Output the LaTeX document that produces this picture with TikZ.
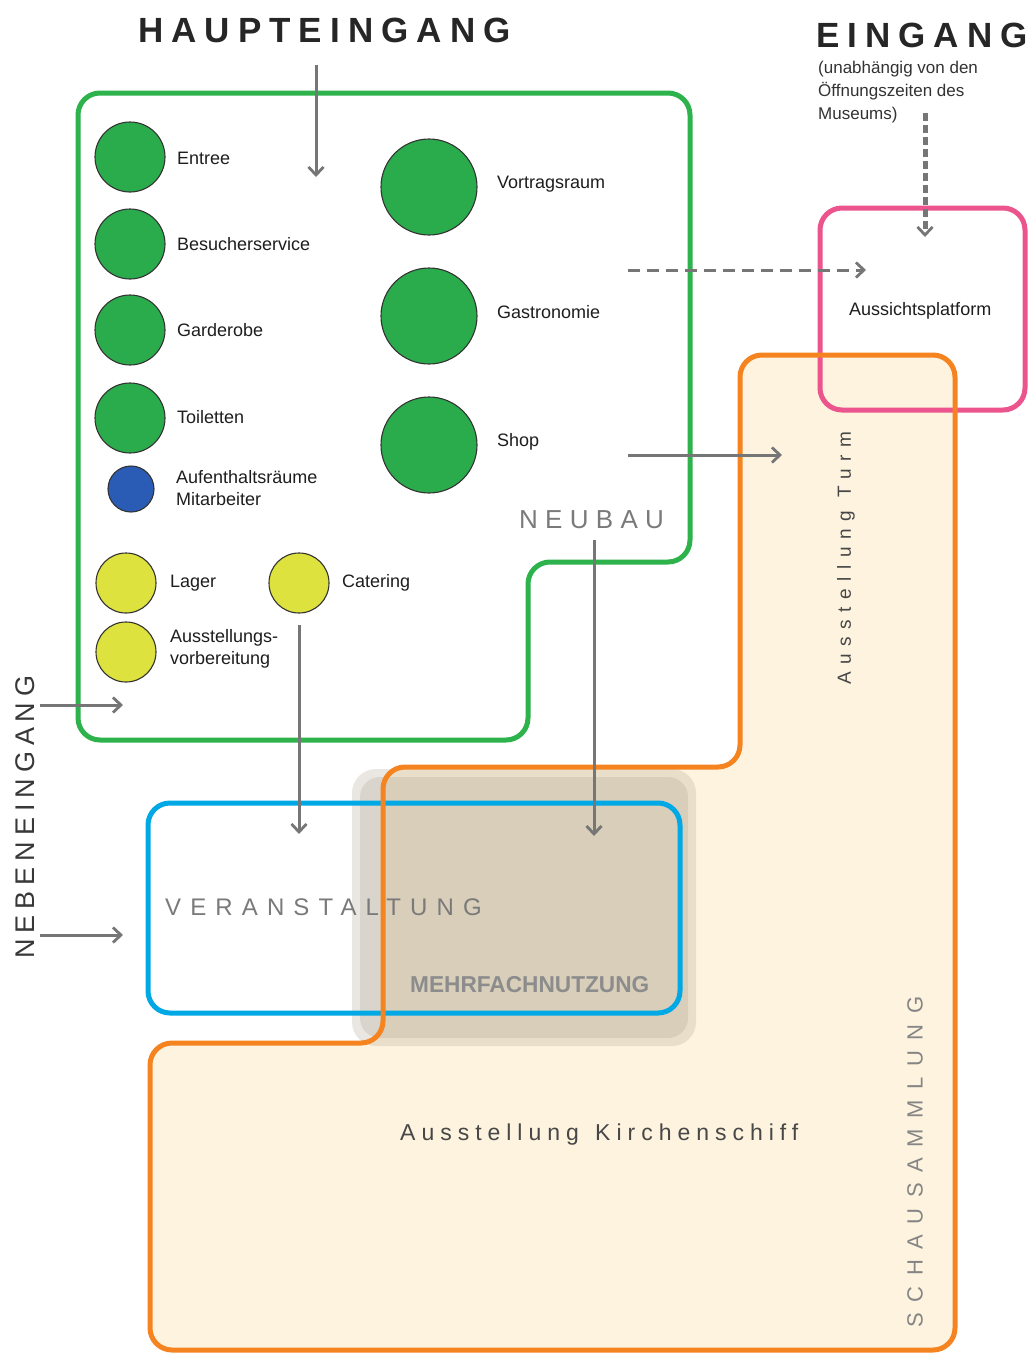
\documentclass[tikz,border=0pt]{standalone}
\usepackage{fontspec}
\setmainfont{Liberation Sans}
\usetikzlibrary{arrows.meta}
\definecolor{grn}{RGB}{46,178,76}
\definecolor{cfill}{RGB}{42,172,76}
\definecolor{blu}{RGB}{0,168,230}
\definecolor{pnk}{RGB}{236,84,142}
\definecolor{org}{RGB}{245,132,32}
\definecolor{cream}{RGB}{253,243,223}
\definecolor{arr}{RGB}{118,118,118}
\definecolor{ylw}{RGB}{222,226,62}
\definecolor{dblu}{RGB}{42,92,182}
\definecolor{mgray}{RGB}{160,150,130}
\definecolor{txt}{RGB}{30,30,30}
\begin{document}
\begin{tikzpicture}[x=1pt,y=-1pt,
  frame/.style={line width=5pt, rounded corners=22pt},
  room/.style={circle, draw=black!80, line width=1.1pt, inner sep=0pt},
  lbl/.style={anchor=west, inner sep=0pt, text=txt, font=\fontsize{18}{21}\selectfont},
  flow/.style={draw=arr, line width=3pt, -{Straight Barb[length=8pt,width=15pt,line width=2.8pt]}},
  dflow/.style={flow, dash pattern=on 12pt off 7pt},
  title/.style={inner sep=0pt, text=black!85, font=\fontsize{35}{40}\selectfont\bfseries\addfontfeatures{LetterSpace=23}},
  zone/.style={inner sep=0pt, text=black!52}
]
\useasboundingbox (0,0) rectangle (1028,1355);
\fill[white] (0,0) rectangle (1028,1355);

% orange zone fill
\fill[cream, rounded corners=22pt] (740,355) -- (955,355) -- (955,1350) -- (150,1350) -- (150,1043) -- (383,1043) -- (383,767) -- (740,767) -- cycle;

% Mehrfachnutzung grey area
\fill[mgray, opacity=0.22, rounded corners=24pt] (352,769) rectangle (696,1046);
\fill[mgray, opacity=0.22, rounded corners=20pt] (360,777) rectangle (688,1038);

% frames
\draw[frame, grn] (78,93) -- (690,93) -- (690,562) -- (528,562) -- (528,740) -- (78,740) -- cycle;
\draw[frame, pnk] (820,208) rectangle (1025,410);
\draw[frame, blu] (148,803) rectangle (680,1013);
\draw[frame, org] (740,355) -- (955,355) -- (955,1350) -- (150,1350) -- (150,1043) -- (383,1043) -- (383,767) -- (740,767) -- cycle;

% rooms
\node[room, fill=cfill, minimum size=70pt] (entree) at (130,157) {};
\node[room, fill=cfill, minimum size=70pt] (besucher) at (130,244) {};
\node[room, fill=cfill, minimum size=70pt] (garderobe) at (130,330) {};
\node[room, fill=cfill, minimum size=70pt] (toiletten) at (130,418) {};
\node[room, fill=dblu, minimum size=46pt] (aufenthalt) at (131,489) {};
\node[room, fill=ylw, minimum size=60pt] (lager) at (126,583) {};
\node[room, fill=ylw, minimum size=60pt] (vorber) at (126,652) {};
\node[room, fill=ylw, minimum size=60pt] (catering) at (299,583) {};
\node[room, fill=cfill, minimum size=96pt] (vortrag) at (429,187) {};
\node[room, fill=cfill, minimum size=96pt] (gastro) at (429,316) {};
\node[room, fill=cfill, minimum size=96pt] (shop) at (429,445) {};

\node[lbl] (entreeL) at (177,158) {Entree};
\node[lbl] (besucherL) at (177,244) {Besucherservice};
\node[lbl] (garderobeL) at (177,330) {Garderobe};
\node[lbl] (toilettenL) at (177,417) {Toiletten};
\node[lbl, align=left, font=\fontsize{18}{22}\selectfont] (aufenthaltL) at (176,488) {Aufenthaltsräume\\Mitarbeiter};
\node[lbl] (lagerL) at (170,583) {Lager};
\node[lbl] (cateringL) at (342,583) {Catering};
\node[lbl, align=left, font=\fontsize{18}{22}\selectfont] (vorberL) at (170,649) {Ausstellungs-\\vorbereitung};
\node[lbl] (vortragL) at (497,184) {Vortragsraum};
\node[lbl] (gastroL) at (497,312) {Gastronomie};
\node[lbl] (shopL) at (497,442) {Shop};
\node[lbl] (aussichtL) at (849,311) {Aussichtsplatform};

% titles
\node[title, anchor=west] (haupt) at (138,30) {HAUPTEINGANG};
\node[title, anchor=west] (eingang) at (816,35) {EINGANG};
\node[anchor=north west, inner sep=0pt, align=left, text=black!80, font=\fontsize{17}{23}\selectfont] (eingangsub) at (818,61) {(unabhängig von den\\Öffnungszeiten des\\Museums)};
\node[zone, anchor=west, font=\fontsize{26}{30}\selectfont\addfontfeatures{LetterSpace=28}] (neubau) at (519,520) {NEUBAU};
\node[zone, anchor=west, font=\fontsize{24}{28}\selectfont\addfontfeatures{LetterSpace=38}] (veranst) at (165,907) {VERANSTALTUNG};
\node[zone, anchor=west, text=black!45, font=\fontsize{23}{26}\selectfont\bfseries, xscale=0.985] (mehrfach) at (410,985) {MEHRFACHNUTZUNG};
\node[inner sep=0pt, anchor=west, text=black!72, font=\fontsize{23}{26}\selectfont\addfontfeatures{LetterSpace=26}] (kirchen) at (400,1135) {Ausstellung\hspace{4pt} Kirchenschiff};
\node[inner sep=0pt, rotate=90, text=black!72, font=\fontsize{19}{22}\selectfont\addfontfeatures{LetterSpace=40}] (turm) at (846,558) {Ausstellung Turm};
\node[zone, rotate=90, text=black!48, font=\fontsize{22}{26}\selectfont\addfontfeatures{LetterSpace=48}] (schau) at (915,1162) {SCHAUSAMMLUNG};
\node[inner sep=0pt, rotate=90, text=black!78, font=\fontsize{27}{30}\selectfont\addfontfeatures{LetterSpace=22}] (neben) at (25,817) {NEBENEINGANG};

% connector end points
\coordinate (hA) at (316,65);   \coordinate (hB) at (316,177);
\coordinate (eA) at (925,113);  \coordinate (eB) at (925,237);
\coordinate (gA) at (628,270);  \coordinate (gB) at (866,270);
\coordinate (sA) at (628,455);  \coordinate (sB) at (782,455);
\coordinate (cA) at (299,625);  \coordinate (cB) at (299,834);
\coordinate (nA) at (594,540);  \coordinate (nB) at (594,836);
\coordinate (n1A) at (40,705);  \coordinate (n1B) at (123,705);
\coordinate (n2A) at (40,935);  \coordinate (n2B) at (123,935);

\draw[flow] (hA) -- (hB);
\draw[dflow, line width=5pt, dash pattern=on 8pt off 4pt, -{Straight Barb[length=8pt,width=15pt,line width=2.8pt]}] (eA) -- (eB);
\draw[dflow] (gA) -- (gB);
\draw[flow] (sA) -- (sB);
\draw[flow] (cA) -- (cB);
\draw[flow] (nA) -- (nB);
\draw[flow] (n1A) -- (n1B);
\draw[flow] (n2A) -- (n2B);
\end{tikzpicture}
\end{document}
